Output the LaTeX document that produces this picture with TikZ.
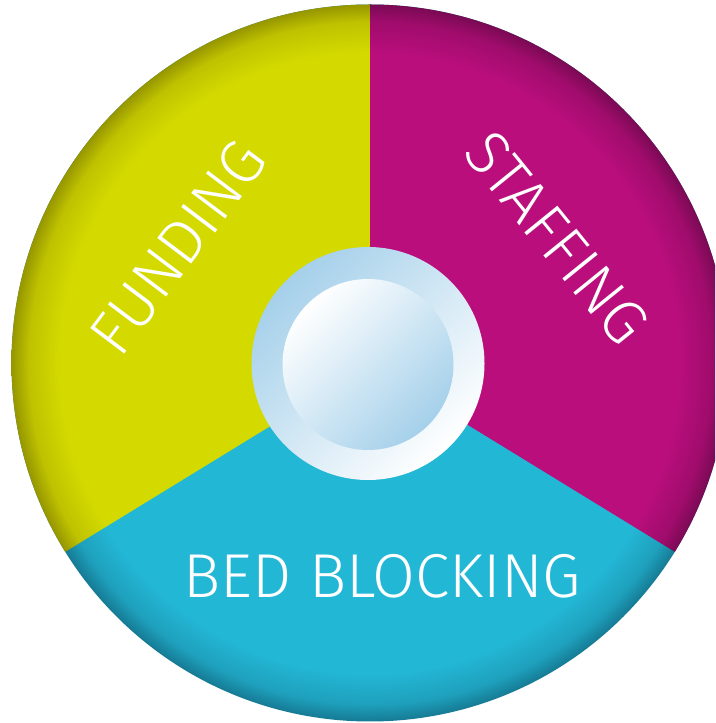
\documentclass[tikz,border=0pt]{standalone}
\usepackage{fontspec}
\IfFontExistsTF{Fira Sans Light}{\newfontfamily\labelfont{Fira Sans Light}}{%
 \IfFontExistsTF{FiraSans-Light}{\newfontfamily\labelfont{FiraSans-Light}}{%
  \IfFontExistsTF{Lato Light}{\newfontfamily\labelfont{Lato Light}}{%
   \IfFontExistsTF{Open Sans Light}{\newfontfamily\labelfont{Open Sans Light}}{%
    \newfontfamily\labelfont{Fira Sans}}}}}
\definecolor{fy}{RGB}{212,218,0}
\definecolor{fym}{RGB}{190,194,0}
\definecolor{fyd}{RGB}{150,150,0}
\definecolor{sm}{RGB}{185,14,124}
\definecolor{smm}{RGB}{160,12,108}
\definecolor{smd}{RGB}{122,10,84}
\definecolor{bc}{RGB}{35,183,214}
\definecolor{bcm}{RGB}{30,160,188}
\definecolor{bcd}{RGB}{22,122,148}
\definecolor{hubblue}{RGB}{165,208,234}
\pgfdeclareradialshading{rimY}{\pgfpoint{0bp}{0bp}}{color(0bp)=(fy);color(21.6bp)=(fy);color(23.8bp)=(fym);color(25bp)=(fyd);color(50bp)=(fyd)}
\pgfdeclareradialshading{rimM}{\pgfpoint{0bp}{0bp}}{color(0bp)=(sm);color(21.6bp)=(sm);color(23.8bp)=(smm);color(25bp)=(smd);color(50bp)=(smd)}
\pgfdeclareradialshading{rimC}{\pgfpoint{0bp}{0bp}}{color(0bp)=(bc);color(21.6bp)=(bc);color(23.8bp)=(bcm);color(25bp)=(bcd);color(50bp)=(bcd)}
\begin{document}
\begin{tikzpicture}[x=1pt,y=1pt,
  lbl/.style={text=white, font=\labelfont\fontsize{62}{62}\selectfont, inner sep=0pt, anchor=center}]
\useasboundingbox (0,0) rectangle (715,723);
\clip (0,0) rectangle (715,723);
\coordinate (C) at (370,360);
\coordinate (P) at (370,358);
% bed blocking (full disc underneath)
\shade[shading=rimC] (C) circle (358.5);
% funding sector
\begin{scope}
  \clip (P) -- ([shift={(90:800)}]P) -- ([shift={(150:800)}]P) -- ([shift={(211.5:800)}]P) -- cycle;
  \shade[shading=rimY] (C) circle (358.5);
\end{scope}
% staffing sector
\begin{scope}
  \clip (P) -- ([shift={(90:800)}]P) -- ([shift={(30:800)}]P) -- ([shift={(328.5:800)}]P) -- cycle;
  \shade[shading=rimM] (C) circle (358.5);
\end{scope}
% hub
\shade[top color=hubblue, bottom color=white, shading angle=45] (368,359.5) circle (116.5);
\shade[top color=white, middle color=white!85!hubblue, bottom color=hubblue, shading angle=45] (368,358.5) circle (85.5);
% labels
\node[lbl, rotate=53] (funding) at (178,476) {FUNDING};
\node[lbl, rotate=-51] (staffing) at (557,485) {STAFFING};
\node[lbl] (bed) at (382.5,147) {BED BLOCKING};
\end{tikzpicture}
\end{document}
